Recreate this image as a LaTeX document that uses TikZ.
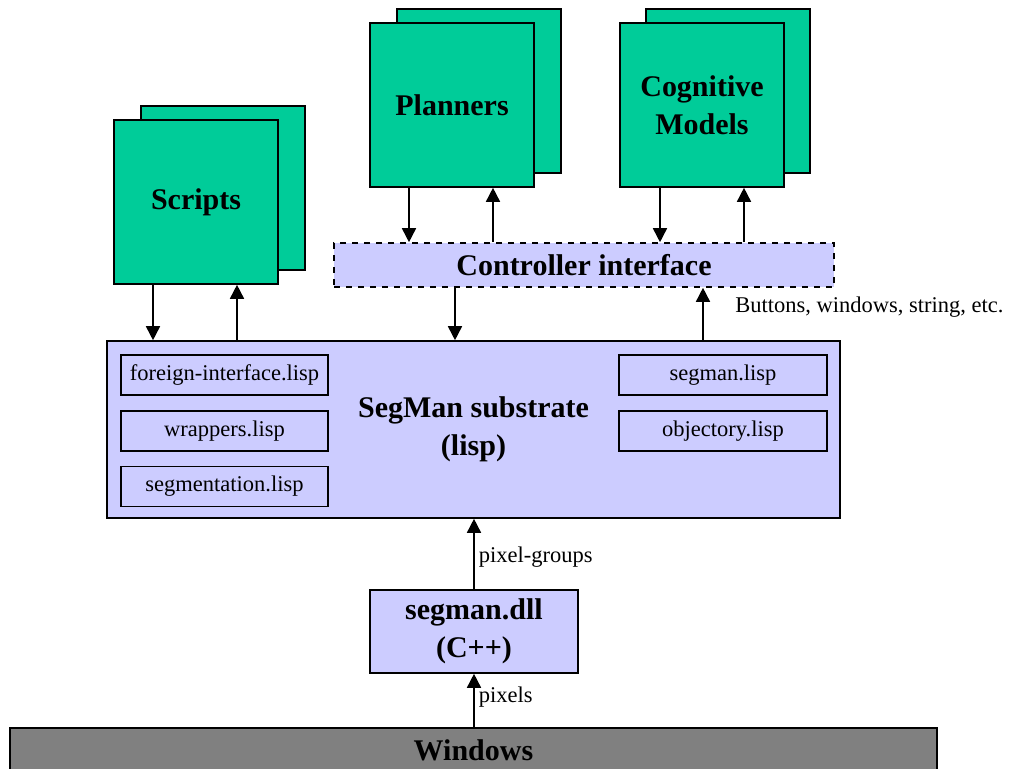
\documentclass[tikz,border=0pt]{standalone}
\usepackage{fontspec}
\setmainfont{Liberation Serif}
\usetikzlibrary{arrows.meta, positioning, calc}

\definecolor{toolgreen}{HTML}{00CC99}
\definecolor{layerblue}{HTML}{CCCCFF}
\definecolor{osgray}{HTML}{808080}

\begin{document}
\begin{tikzpicture}[x=0.5pt, y=-0.5pt,
    tool box/.style={draw=black, fill=toolgreen, line width=0.8pt, minimum width=82pt, minimum height=82pt, inner sep=0pt, align=center, font=\fontsize{15}{19}\selectfont\bfseries},
    layer box/.style={draw=black, fill=layerblue, line width=0.8pt, inner sep=0pt, align=center, font=\fontsize{15}{19}\selectfont\bfseries},
    file box/.style={draw=black, fill=layerblue, line width=0.8pt, minimum height=20pt, inner sep=0pt, font=\fontsize{11.25}{13}\selectfont},
    note/.style={font=\fontsize{11.25}{13}\selectfont, inner sep=2pt},
    flow/.style={line width=0.8pt, -{Triangle[length=7pt, width=7pt]}}
]
    \useasboundingbox (0,0) rectangle (1009,768);

    % Clients (a sheet behind each box)
    \node[tool box] (scripts back) at (223,188) {};
    \node[tool box] (scripts) at (196,202) {Scripts};

    \node[tool box] (planners back) at (479,91) {};
    \node[tool box] (planners) at (452,105) {Planners};

    \node[tool box] (models back) at (728,91) {};
    \node[tool box] (models) at (702,105) {Cognitive\\Models};

    % Controller interface
    \node[layer box, dashed, minimum width=250pt, minimum height=22pt] (ctrl) at (584,265) {Controller interface};

    % Substrate and its lisp files
    \node[layer box, minimum width=366.5pt, minimum height=88.5pt] (substrate) at (473.5,429.5) {SegMan substrate\\(lisp)};

    \node[file box, minimum width=103.5pt] (foreign) at (224.5,375) {foreign-interface.lisp};
    \node[file box, minimum width=103.5pt] (wrappers) at (224.5,431) {wrappers.lisp};
    \node[file box, minimum width=103.5pt] (segmentation) at (224.5,486.5) {segmentation.lisp};
    \node[file box, minimum width=104pt] (segman lisp) at (723,375) {segman.lisp};
    \node[file box, minimum width=104pt] (objectory) at (723,431) {objectory.lisp};

    % Native layer
    \node[layer box, minimum width=104pt, minimum height=41.5pt] (dll) at (474,631.5) {segman.dll\\(C++)};

    \node[draw=black, fill=osgray, line width=0.8pt, minimum width=463.5pt, minimum height=22pt, inner sep=0pt, font=\fontsize{15}{19}\selectfont\bfseries] (windows) at (473.5,750) {Windows};

    % Arrow anchors along the box edges
    \coordinate (scripts down) at ($(scripts.south)+(-43,0)$);
    \coordinate (scripts up)   at ($(scripts.south)+(41,0)$);
    \coordinate (planners down) at ($(planners.south)+(-43,0)$);
    \coordinate (planners up)   at ($(planners.south)+(41,0)$);
    \coordinate (models down) at ($(models.south)+(-42,0)$);
    \coordinate (models up)   at ($(models.south)+(42,0)$);
    \coordinate (ctrl down) at ($(ctrl.south)+(-129,0)$);
    \coordinate (ctrl up)   at ($(ctrl.south)+(119,0)$);

    % Arrows between clients and substrate
    \draw[flow] (scripts down) -- (scripts down |- substrate.north);
    \draw[flow] (scripts up |- substrate.north) -- (scripts up);

    \draw[flow] (planners down) -- (planners down |- ctrl.north);
    \draw[flow] (planners up |- ctrl.north) -- (planners up);

    \draw[flow] (models down) -- (models down |- ctrl.north);
    \draw[flow] (models up |- ctrl.north) -- (models up);

    \draw[flow] (ctrl down) -- (ctrl down |- substrate.north);
    \draw[flow] (ctrl up |- substrate.north) -- (ctrl up);
    \node[note, anchor=west] (events) at (731,307) {Buttons, windows, string, etc.};

    % Arrows from the OS upwards
    \draw[flow] (dll.north) -- (dll.north |- substrate.south) node[note, midway, right, yshift=-1.5pt] (groups) {pixel-groups};
    \draw[flow] (dll.south |- windows.north) -- (dll.south) node[note, midway, right, yshift=1.5pt] (pixels) {pixels};
\end{tikzpicture}
\end{document}
